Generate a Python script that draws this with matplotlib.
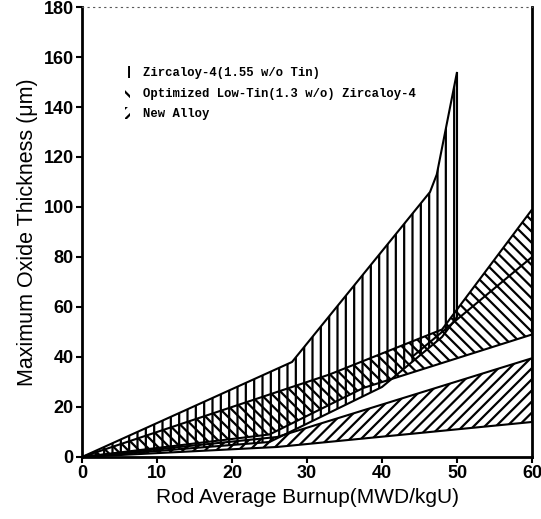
import matplotlib.pyplot as plt
from matplotlib.patches import Patch

plt.rcParams['hatch.linewidth'] = 1.6
plt.rcParams['font.family'] = ['Liberation Sans', 'DejaVu Sans']

# band boundaries (burnup, oxide thickness)
zr_up_x = [0, 28, 46.4, 47.3, 50]
zr_up_y = [0, 38, 106, 113, 154]
zr_lo_x = [0, 25, 40, 48, 50]
zr_lo_y = [0, 6, 28, 48, 56]

opt_up_x = [0, 33, 48, 60]
opt_up_y = [0, 33, 51, 99]
opt_lo_x = [0, 25, 37.5, 60]
opt_lo_y = [0, 9, 27.6, 49]
opt_mid_x = [44, 60]
opt_mid_y = [40, 80]

new_up_x = [0, 26, 60]
new_up_y = [0, 8, 39.5]
new_lo_x = [0, 26, 60]
new_lo_y = [0, 4, 14]

labels = ['Zircaloy-4(1.55 w/o Tin)',
          'Optimized Low-Tin(1.3 w/o) Zircaloy-4',
          'New Alloy']
hatches = ['||', '\\\\\\', '///']

fig = plt.figure(figsize=(5.41, 5.19), dpi=100)
ax = fig.add_axes([0.1516, 0.1195, 0.8318, 0.867])

bands = [(zr_up_x, zr_up_y, zr_lo_x, zr_lo_y),
         (opt_up_x, opt_up_y, opt_lo_x, opt_lo_y),
         (new_up_x, new_up_y, new_lo_x, new_lo_y)]
for (ux, uy, lx, ly), h in zip(bands, hatches):
    px = list(ux) + list(lx[::-1])
    py = list(uy) + list(ly[::-1])
    ax.fill(px, py, facecolor='none', edgecolor='black', hatch=h, linewidth=1.5)
ax.plot(opt_mid_x, opt_mid_y, color='black', lw=1.5)

ax.set_xlim(0, 60)
ax.set_ylim(0, 180)
ax.set_xticks(range(0, 61, 10))
ax.set_yticks(range(0, 181, 20))
ax.tick_params(direction='out', length=4, width=1.5, labelsize=13, pad=2)
for lab in ax.get_xticklabels() + ax.get_yticklabels():
    lab.set_fontweight('bold')
for s in ['left', 'right', 'bottom']:
    ax.spines[s].set_linewidth(2)
ax.spines['top'].set_linewidth(0.8)
ax.spines['top'].set_linestyle((0, (1, 4)))
ax.spines['top'].set_color('0.35')

ax.set_xlabel('Rod Average Burnup(MWD/kgU)', fontsize=15, labelpad=4)
ax.set_ylabel('Maximum Oxide Thickness (\u03bcm)', fontsize=15.5, labelpad=4)

handles = [Patch(facecolor='none', edgecolor='black', linewidth=0, hatch=h) for h in hatches]
leg = ax.legend(handles, labels, loc='upper left', bbox_to_anchor=(0.07, 0.893),
                frameon=False, handlelength=0.45, handleheight=1.1, handletextpad=1.1,
                labelspacing=0.62,
                prop={'family': 'Liberation Mono', 'weight': 'bold', 'size': 8.8})

fig.savefig('out.png', dpi=100)
